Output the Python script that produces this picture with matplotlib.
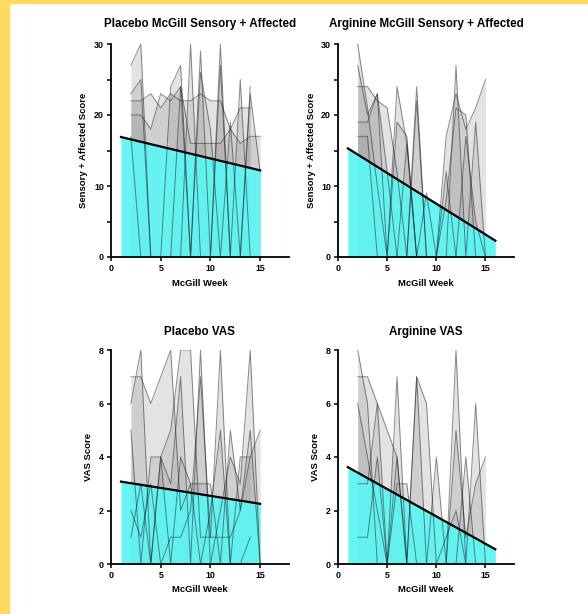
import numpy as np
import matplotlib
matplotlib.use("Agg")
from matplotlib import pyplot as plt
from matplotlib.patches import Rectangle

plt.rcParams['font.family'] = ['Liberation Sans', 'DejaVu Sans']
plt.rcParams['font.weight'] = 'bold'

nan = np.nan
weeks = [2, 3, 4, 5, 6, 7, 8, 9, 10, 11, 12, 13, 14, 15]

# Placebo McGill sensory + affected, one list per subject
pm_subjects = [
    [27, 30, 0, 0, 24, 27, 0, 29, 0, 30, 0, 25, 0, nan],
    [22, 22, 23, 21, 23, 22, 22, 23, 22, 22, 18, 21, 21, nan],
    [20, 20, 18, 23, 22, 24, 0, 26, 18, 0, 19, 0, 24, nan],
    [23, 25, 0, 0, 0, 24, 16, 16, 16, 16, 18, 16, 17, 17],
    [17, 0, 0, 0, 0, 0, 30, 0, 0, 27, 0, 0, 23, 12],
]
pm_fit_x = [1, 15]
pm_fit_y = [16.9, 12.2]

# Arginine McGill sensory + affected
am_subjects = [
    [30, 21, 10, 0, 24, 16, 0, 0, 0, 17, 23, 18, 21, 25],
    [27, 20, 23, 0, 19, 17, 0, 0, 0, 0, 27, 0, 19, 0],
    [24, 24, 22, 21, 12, 0, 24, 0, 0, 8, 21, 20, 0, 0],
    [19, 19, 23, 12, 0, 0, 22, 0, 0, 0, 0, 17, 5, 0],
    [17, 17, 0, 0, 0, 16, 0, 9, 0, 12, 0, 0, 0, 0],
]
am_fit_x = [1, 16]
am_fit_y = [15.3, 2.3]

# Placebo VAS
pv_subjects = [
    [7, 7, 6, 7, 8, 2, 3, 3, 3, 0, 5, 2, 4, 5],
    [6, 8, 0, 4, 5, 8, 8, 1, 1, 8, 0, 4, 4, nan],
    [5, 0, 4, 4, 3, 7, 0, 8, 0, 2, 4, 3, 8, 0],
    [2, 1, 3, 0, 1, 1, 2, 7, 1, 1, 1, 2, 5, 0],
    [1, 3, 0, 4, 0, 4, 3, 0, 2, 5, 0, 0, 1, nan],
]
pv_fit_x = [1, 15]
pv_fit_y = [3.08, 2.25]

# Arginine VAS
av_subjects = [
    [8, 6, 0, 0, 7, 0, 7, 6, 0, 0, 8, 0, 6, 0],
    [7, 7, 6, 5, 4, 0, 0, 0, 4, 0, 5, 1, 3, 4],
    [6, 4, 2, 0, 4, 0, 7, 0, 0, 0, 0, 4, 0, nan],
    [3, 3, 6, 0, 3, 3, 0, 0, 0, 1, 2, 0, 0, nan],
    [1, 1, 4, 0, 0, 0, 0, 0, 0, 0, 0, 0, 0, nan],
]
av_fit_x = [1, 16]
av_fit_y = [3.62, 0.55]

panels = [
    ("Placebo McGill Sensory + Affected", "Sensory + Affected Score", pm_subjects, pm_fit_x, pm_fit_y, 30, 10, 5),
    ("Arginine McGill Sensory + Affected", "Sensory + Affected Score", am_subjects, am_fit_x, am_fit_y, 30, 10, 5),
    ("Placebo VAS", "VAS Score", pv_subjects, pv_fit_x, pv_fit_y, 8, 2, None),
    ("Arginine VAS", "VAS Score", av_subjects, av_fit_x, av_fit_y, 8, 2, None),
]

W, H = 588, 614
fig = plt.figure(figsize=(W / 100, H / 100), dpi=100)
fig.patch.set_facecolor('white')

# axes boxes in pixels: left, top, right, bottom
boxes = [(111, 44, 289, 257), (338, 44, 514, 257),
         (111, 350, 289, 564), (338, 350, 514, 564)]

cyan = '#5ff5f4'
for (title, ylab, subs, fx, fy, ymax, ystep, yminor), (l, t, r, b) in zip(panels, boxes):
    ax = fig.add_axes([l / W, 1 - b / H, (r - l) / W, (b - t) / H])
    for s in subs:
        ax.fill_between(weeks, s, 0, color='#9a9a9a', alpha=0.27, lw=0)
    ax.fill_between(fx, fy, 0, color=cyan, alpha=0.95, lw=0, zorder=2)
    for s in subs:
        ax.plot(weeks, s, color='#1a1a1a', alpha=0.5, lw=0.7, zorder=3)
    ax.plot(fx, fy, color='black', lw=1.6, zorder=4)

    ax.set_xlim(0, 17.9)
    ax.set_ylim(0, ymax)
    ax.set_xticks([0, 5, 10, 15])
    ax.set_yticks(np.arange(0, ymax + 0.1, ystep))
    if yminor:
        ax.set_yticks(np.arange(yminor, ymax, ystep), minor=True)
    for sp in ['top', 'right']:
        ax.spines[sp].set_visible(False)
    for sp in ['left', 'bottom']:
        ax.spines[sp].set_linewidth(1.3)
    ax.tick_params(which='both', length=3, width=1.1, labelsize=6.4, pad=2)
    ax.set_title(title, fontsize=8.4, fontweight='bold', pad=12 if t < 100 else 10.5)
    ax.set_xlabel("McGill Week", fontsize=6.8, fontweight='bold', labelpad=4)
    ax.set_ylabel(ylab, fontsize=6.8, fontweight='bold', labelpad=4)

# yellow frame strips
fig.patches.append(Rectangle((0, 0), 9 / W, 1, transform=fig.transFigure,
                             color='#ffda5e', zorder=-1))
fig.patches.append(Rectangle((0, 1 - 3 / H), 1, 3 / H, transform=fig.transFigure,
                             color='#ffda5e', zorder=-1))

fig.savefig("out.png", dpi=100, facecolor='white')
